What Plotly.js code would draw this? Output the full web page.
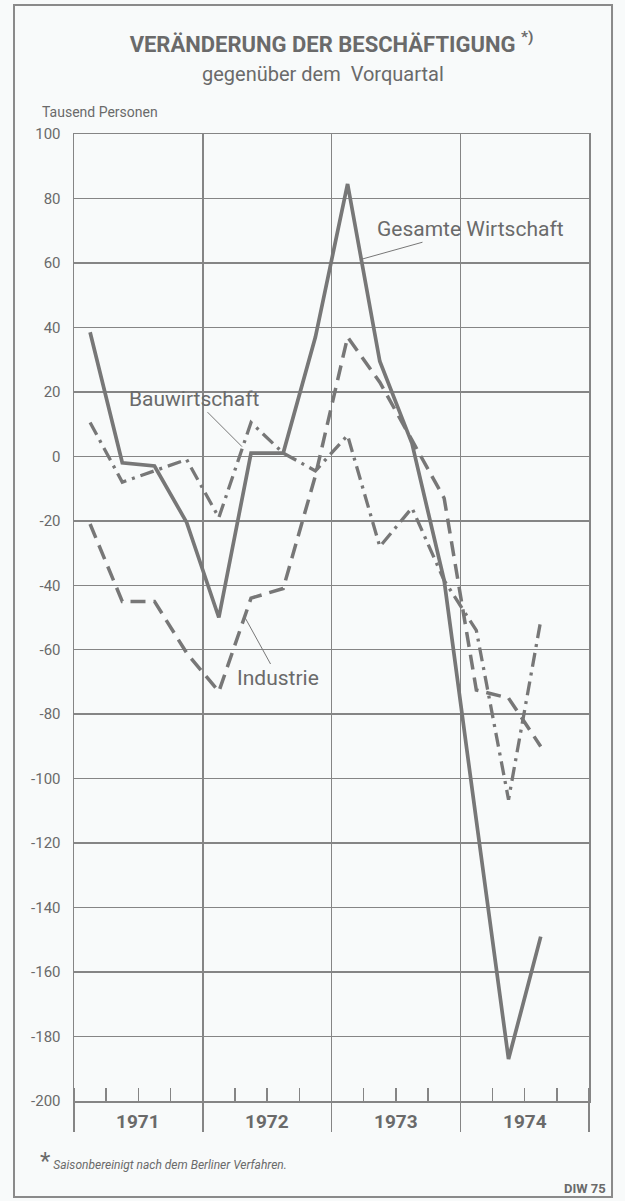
<!DOCTYPE html>
<html>
<head>
<meta charset="utf-8">
<script src="https://cdn.plot.ly/plotly-3.0.1.min.js"></script>
<style>
  html, body { margin: 0; padding: 0; background: #f8fafa; }
  #chart { width: 625px; height: 1201px; }
</style>
</head>
<body>
<div id="chart"></div>
<script>
// ---- data (Tausend Personen, Veränderung gegenüber dem Vorquartal, saisonbereinigt) ----
const years = [1971, 1972, 1973, 1974];
const quarterYear = [1971,1971,1971,1971, 1972,1972,1972,1972, 1973,1973,1973,1973, 1974,1974,1974];
const quarterNum  = [1,2,3,4, 1,2,3,4, 1,2,3,4, 1,2,3];
const gesamteWirtschaft = [38.5, -2, -3, -20.5, -50, 1, 1, 37, 84.5, 29.5, 4, -38.5, -113, -187, -149];
const bauwirtschaft     = [10.5, -8, -4.5, -1, -19, 10.5, 1, -4.5, 6.5, -28, -16, -38.5, -54, -106.5, -51];
const industrie         = [-21, -45, -45, -61, -73, -44, -41, -6, 37, 23, 5, -13, -72.5, -75, -90];
const yTicks = [100, 80, 60, 40, 20, 0, -20, -40, -60, -80, -100, -120, -140, -160, -180, -200];

// quarter -> position on the time axis (middle of the quarter)
const xPos = quarterYear.map((y, i) => y + (quarterNum[i] - 0.5) / 4);

const INK = '#777777';
const TXT = '#6a6a6a';
const FONT = 'Roboto, "DejaVu Sans", sans-serif';

const traces = [
  { x: xPos, y: gesamteWirtschaft, name: 'Gesamte Wirtschaft', type: 'scatter', mode: 'lines',
    line: { color: INK, width: 3.7 } },
  { x: xPos, y: industrie, name: 'Industrie', type: 'scatter', mode: 'lines',
    line: { color: INK, width: 3.5, dash: '15px,8px' } },
  { x: xPos, y: bauwirtschaft, name: 'Bauwirtschaft', type: 'scatter', mode: 'lines',
    line: { color: INK, width: 3.3, dash: '14px,6px,3px,6px' } }
];

const annotations = years.map(y => ({
  x: y + 0.5, xref: 'x', y: -0.0217, yref: 'paper', yanchor: 'middle', xanchor: 'center',
  text: String(y), showarrow: false,
  font: { family: FONT, size: 19, color: TXT, weight: 'bold' }
}));

annotations.push(
  { x: 0.484, xref: 'paper', y: (1101 - 74) / 967, yref: 'paper', text: 'gegenüber dem  Vorquartal',
    showarrow: false, xanchor: 'center', yanchor: 'middle',
    font: { family: FONT, size: 20, color: TXT } },
  { x: -0.066, xref: 'paper', y: (1101 - 112) / 967, yref: 'paper', text: 'Tausend Personen',
    showarrow: false, xanchor: 'left', yanchor: 'middle',
    font: { family: FONT, size: 14, color: TXT } },
  // series labels with leader lines
  { x: 1973.22, y: 61, xref: 'x', yref: 'y', text: 'Gesamte Wirtschaft',
    showarrow: true, arrowhead: 0, arrowwidth: 1, arrowcolor: INK, ax: 111, ay: -31,
    font: { family: FONT, size: 21, color: TXT } },
  { x: 1972.305, y: 3, xref: 'x', yref: 'y', text: 'Bauwirtschaft',
    showarrow: true, arrowhead: 0, arrowwidth: 1, arrowcolor: INK, ax: -48, ay: -48,
    font: { family: FONT, size: 21, color: TXT } },
  { x: 1972.328, y: -50, xref: 'x', yref: 'y', text: 'Industrie',
    showarrow: true, arrowhead: 0, arrowwidth: 1, arrowcolor: INK, ax: 33, ay: 60,
    font: { family: FONT, size: 21, color: TXT } },
  // footnote
  { x: -0.07, xref: 'paper', y: -0.062, yref: 'paper', xanchor: 'left', yanchor: 'middle',
    text: '<span style="font-size:24px;font-style:normal">*</span> Saisonbereinigt nach dem Berliner Verfahren.',
    showarrow: false, font: { family: FONT, size: 12, color: TXT, style: 'italic' } },
  { x: 1.037, xref: 'paper', y: -0.0905, yref: 'paper', xanchor: 'right', yanchor: 'middle',
    text: 'DIW 75', showarrow: false,
    font: { family: FONT, size: 13, color: TXT, weight: 'bold' } }
);

const layout = {
  width: 625, height: 1201,
  margin: { l: 74, r: 36, t: 134, b: 100 },
  paper_bgcolor: '#f8fafa', plot_bgcolor: '#f8fafa',
  showlegend: false,
  title: {
    text: 'VERÄNDERUNG DER BESCHÄFTIGUNG <sup>*)</sup>',
    x: 0.5, xref: 'paper', xanchor: 'center',
    y: 1 - 44 / 1201, yref: 'container', yanchor: 'middle',
    font: { family: FONT, size: 22, color: TXT, weight: 'bold' }
  },
  xaxis: {
    range: [1971, 1975], tick0: 1971, dtick: 1,
    showgrid: true, gridcolor: '#858585', gridwidth: 1.5,
    showline: true, mirror: true, linecolor: '#858585', linewidth: 1.5,
    zeroline: false, showticklabels: false,
    ticks: 'outside', ticklen: 29, tickwidth: 1.5, tickcolor: '#858585',
    minor: { dtick: 0.25, tick0: 1971, ticks: 'inside', ticklen: 13, tickwidth: 1.5,
             tickcolor: '#858585', showgrid: false },
    fixedrange: true
  },
  yaxis: {
    range: [-200, 100], tickvals: yTicks, ticktext: yTicks.map(String),
    showgrid: true, gridcolor: '#858585', gridwidth: 1.5,
    showline: true, mirror: true, linecolor: '#858585', linewidth: 1.5,
    zeroline: false,
    ticks: 'outside', ticklen: 9, tickcolor: 'rgba(0,0,0,0)',
    tickfont: { family: FONT, size: 15, color: TXT },
    fixedrange: true
  },
  annotations: annotations,
  shapes: [
    { type: 'rect', xref: 'paper', yref: 'paper',
      x0: -0.1165, x1: 1.0447, y0: -0.0993, y1: 1.1334,
      line: { color: '#8a8a8a', width: 2 }, fillcolor: 'rgba(0,0,0,0)', layer: 'below' }
  ]
};

Plotly.newPlot('chart', traces, layout, { displayModeBar: false, staticPlot: true });
</script>
</body>
</html>
